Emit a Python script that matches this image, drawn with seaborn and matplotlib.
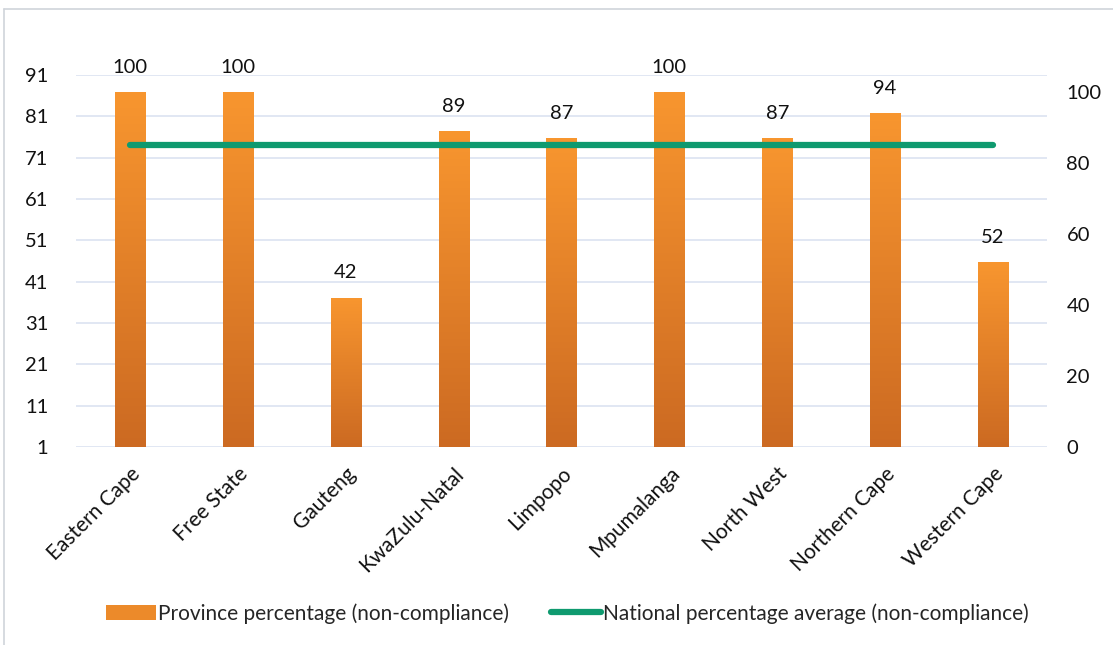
import numpy as np
import pandas as pd
import matplotlib
matplotlib.use("Agg")
import matplotlib.pyplot as plt
import seaborn as sns
from matplotlib.colors import LinearSegmentedColormap
from matplotlib.lines import Line2D
from matplotlib.patches import Patch

# Data
provinces = ["Eastern Cape", "Free State", "Gauteng", "KwaZulu-Natal", "Limpopo",
             "Mpumalanga", "North West", "Northern Cape", "Western Cape"]
province_pct = [100, 100, 42, 89, 87, 100, 87, 94, 52]
national_avg = [85, 85, 85, 85, 85, 85, 85, 85, 85]
left_ticks = [1, 11, 21, 31, 41, 51, 61, 71, 81, 91]
right_ticks = [0, 20, 40, 60, 80, 100]

sns.set_theme(style="white")
plt.rcParams["font.family"] = ["Lato", "DejaVu Sans"]

df = pd.DataFrame({"province": provinces, "pct": province_pct, "avg": national_avg})

fig = plt.figure(figsize=(11.13, 6.45), dpi=100)
ax = fig.add_axes([0.0683, 0.307, 0.8724, 0.577])
ax2 = ax.twinx()

# Primary (left) axis: scale and gridlines
ax.set_ylim(1, 91)
ax.set_yticks(left_ticks)
ax.grid(axis="y", color="#dbe3f1", linewidth=1.2)
ax.set_axisbelow(True)

# Secondary (right) axis carries bars and the average line
sns.barplot(data=df, x="province", y="pct", ax=ax2, width=0.28,
            color="#f0902c", saturation=1)
ax2.set_ylim(0, 104.8)
ax2.set_yticks(right_ticks)

# Gradient fill in each bar
cmap = LinearSegmentedColormap.from_list("bar", ["#cc6a22", "#f8962f"])
grad = np.linspace(0, 1, 256).reshape(-1, 1)
for p in ax2.patches:
    x0, y0 = p.get_x(), p.get_y()
    w, h = p.get_width(), p.get_height()
    im = ax2.imshow(grad, cmap=cmap, aspect="auto", origin="lower",
                    extent=[x0, x0 + w, y0, y0 + h], zorder=2)
    im.set_clip_path(p)
    p.set_facecolor("none")
    p.set_edgecolor("none")

# Value labels
for i, v in enumerate(province_pct):
    ax2.text(i, v + 7.0, str(v), ha="center", va="center", fontsize=14.5, color="#111111")

# National average line
sns.lineplot(x=np.arange(len(provinces)), y=national_avg, ax=ax2,
             color="#0f9a6f", linewidth=4.5, zorder=4)
ax2.set_xlim(-0.5, len(provinces) - 0.5)

for a in (ax, ax2):
    for s in a.spines.values():
        s.set_visible(False)
    a.tick_params(axis="y", length=0, labelsize=14.5, labelcolor="#111111")
    a.set_ylabel("")
    a.set_xlabel("")

ax.tick_params(axis="y", pad=20)
ax2.tick_params(axis="y", pad=14)

# Category labels on the primary axis
ax.set_xticks(range(len(provinces)))
ax.set_xticklabels(provinces, rotation=45, ha="right", rotation_mode="anchor",
                   fontsize=15, color="#111111")
ax.tick_params(axis="x", length=0, pad=12)
ax.set_xlim(-0.5, len(provinces) - 0.5)

# Legend
handles = [Patch(facecolor="#ec8a2a", edgecolor="none"),
           Line2D([0], [0], color="#0f9a6f", linewidth=4.5)]
labels = ["Province percentage (non-compliance)", "National percentage average (non-compliance)"]
fig.legend(handles, labels, loc="center", bbox_to_anchor=(0.51, 0.049), ncol=2,
           frameon=False, fontsize=15, handlelength=2.4, handletextpad=0.1,
           columnspacing=2.0)

# Outer frame lines
fig.add_artist(Line2D([0.004, 1.0], [0.986, 0.986], transform=fig.transFigure,
                      color="#d0d4da", linewidth=1.2))
fig.add_artist(Line2D([0.004, 0.004], [0.0, 0.986], transform=fig.transFigure,
                      color="#d0d4da", linewidth=1.2))

fig.savefig("out.png", dpi=100)
